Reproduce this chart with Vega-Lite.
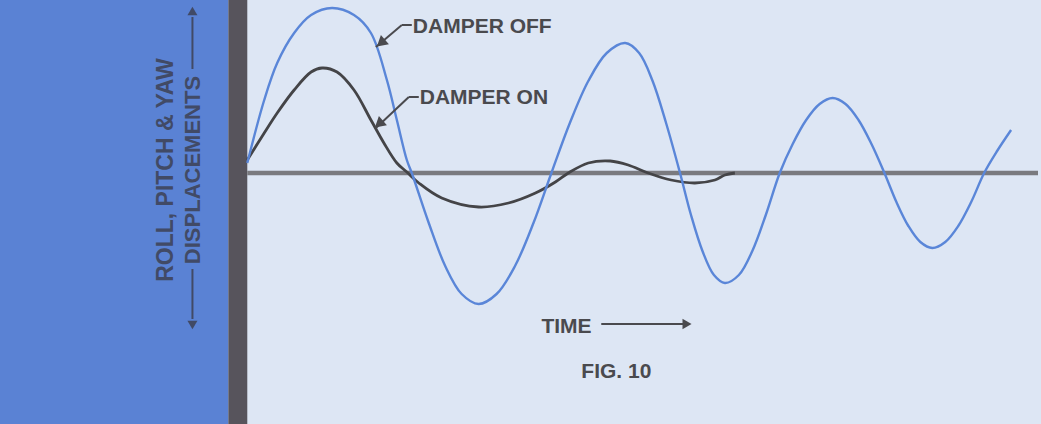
{
  "$schema": "https://vega.github.io/schema/vega-lite/v6.json",
  "width": 1041,
  "height": 424,
  "autosize": {"type": "fit", "contains": "padding"},
  "padding": 0,
  "background": "#dde6f4",
  "config": {"view": {"stroke": null}},
  "datasets": {
    "curves": [
      {"series": "DAMPER OFF", "t": 0.0, "d": 1.0},
      {"series": "DAMPER OFF", "t": 1.7, "d": 7.3},
      {"series": "DAMPER OFF", "t": 3.0, "d": 11.0},
      {"series": "DAMPER OFF", "t": 4.7, "d": 14.0},
      {"series": "DAMPER OFF", "t": 6.4, "d": 15.8},
      {"series": "DAMPER OFF", "t": 8.5, "d": 16.5},
      {"series": "DAMPER OFF", "t": 10.7, "d": 15.8},
      {"series": "DAMPER OFF", "t": 12.4, "d": 14.0},
      {"series": "DAMPER OFF", "t": 14.0, "d": 9.3},
      {"series": "DAMPER OFF", "t": 15.0, "d": 5.3},
      {"series": "DAMPER OFF", "t": 16.0, "d": 1.3},
      {"series": "DAMPER OFF", "t": 16.5, "d": 0.0},
      {"series": "DAMPER OFF", "t": 18.2, "d": -5.0},
      {"series": "DAMPER OFF", "t": 19.85, "d": -9.3},
      {"series": "DAMPER OFF", "t": 21.5, "d": -12.1},
      {"series": "DAMPER OFF", "t": 23.2, "d": -13.1},
      {"series": "DAMPER OFF", "t": 25.0, "d": -12.1},
      {"series": "DAMPER OFF", "t": 26.85, "d": -9.3},
      {"series": "DAMPER OFF", "t": 28.7, "d": -5.0},
      {"series": "DAMPER OFF", "t": 30.5, "d": 0.0},
      {"series": "DAMPER OFF", "t": 32.35, "d": 5.0},
      {"series": "DAMPER OFF", "t": 34.2, "d": 9.2},
      {"series": "DAMPER OFF", "t": 36.05, "d": 12.0},
      {"series": "DAMPER OFF", "t": 37.9, "d": 13.0},
      {"series": "DAMPER OFF", "t": 39.3, "d": 12.0},
      {"series": "DAMPER OFF", "t": 40.65, "d": 9.2},
      {"series": "DAMPER OFF", "t": 42.0, "d": 5.0},
      {"series": "DAMPER OFF", "t": 43.4, "d": 0.0},
      {"series": "DAMPER OFF", "t": 44.5, "d": -4.2},
      {"series": "DAMPER OFF", "t": 45.65, "d": -7.8},
      {"series": "DAMPER OFF", "t": 46.8, "d": -10.2},
      {"series": "DAMPER OFF", "t": 47.9, "d": -11.0},
      {"series": "DAMPER OFF", "t": 49.3, "d": -10.2},
      {"series": "DAMPER OFF", "t": 50.65, "d": -7.8},
      {"series": "DAMPER OFF", "t": 52.0, "d": -4.2},
      {"series": "DAMPER OFF", "t": 53.4, "d": 0.0},
      {"series": "DAMPER OFF", "t": 54.7, "d": 2.9},
      {"series": "DAMPER OFF", "t": 56.05, "d": 5.3},
      {"series": "DAMPER OFF", "t": 57.4, "d": 6.9},
      {"series": "DAMPER OFF", "t": 58.7, "d": 7.5},
      {"series": "DAMPER OFF", "t": 60.0, "d": 6.9},
      {"series": "DAMPER OFF", "t": 61.3, "d": 5.3},
      {"series": "DAMPER OFF", "t": 62.6, "d": 2.9},
      {"series": "DAMPER OFF", "t": 63.9, "d": 0.0},
      {"series": "DAMPER OFF", "t": 65.1, "d": -2.9},
      {"series": "DAMPER OFF", "t": 66.3, "d": -5.3},
      {"series": "DAMPER OFF", "t": 67.5, "d": -6.9},
      {"series": "DAMPER OFF", "t": 68.7, "d": -7.5},
      {"series": "DAMPER OFF", "t": 70.0, "d": -6.9},
      {"series": "DAMPER OFF", "t": 71.3, "d": -5.3},
      {"series": "DAMPER OFF", "t": 72.6, "d": -2.9},
      {"series": "DAMPER OFF", "t": 73.9, "d": 0.0},
      {"series": "DAMPER OFF", "t": 75.2, "d": 2.2},
      {"series": "DAMPER OFF", "t": 76.6, "d": 4.3},
      {"series": "DAMPER ON", "t": 0.0, "d": 1.3},
      {"series": "DAMPER ON", "t": 1.7, "d": 4.0},
      {"series": "DAMPER ON", "t": 3.0, "d": 6.0},
      {"series": "DAMPER ON", "t": 4.7, "d": 8.3},
      {"series": "DAMPER ON", "t": 6.4, "d": 10.1},
      {"series": "DAMPER ON", "t": 7.5, "d": 10.5},
      {"series": "DAMPER ON", "t": 9.0, "d": 10.1},
      {"series": "DAMPER ON", "t": 10.7, "d": 8.3},
      {"series": "DAMPER ON", "t": 12.4, "d": 5.3},
      {"series": "DAMPER ON", "t": 13.7, "d": 3.0},
      {"series": "DAMPER ON", "t": 15.0, "d": 1.0},
      {"series": "DAMPER ON", "t": 16.0, "d": 0.1},
      {"series": "DAMPER ON", "t": 17.2, "d": -1.0},
      {"series": "DAMPER ON", "t": 19.5, "d": -2.5},
      {"series": "DAMPER ON", "t": 23.2, "d": -3.4},
      {"series": "DAMPER ON", "t": 26.2, "d": -3.0},
      {"series": "DAMPER ON", "t": 28.9, "d": -2.0},
      {"series": "DAMPER ON", "t": 30.9, "d": -0.9},
      {"series": "DAMPER ON", "t": 32.2, "d": 0.0},
      {"series": "DAMPER ON", "t": 34.2, "d": 1.0},
      {"series": "DAMPER ON", "t": 36.4, "d": 1.2},
      {"series": "DAMPER ON", "t": 38.2, "d": 0.8},
      {"series": "DAMPER ON", "t": 40.2, "d": 0.0},
      {"series": "DAMPER ON", "t": 42.5, "d": -0.7},
      {"series": "DAMPER ON", "t": 44.9, "d": -1.0},
      {"series": "DAMPER ON", "t": 46.9, "d": -0.7},
      {"series": "DAMPER ON", "t": 47.9, "d": -0.2},
      {"series": "DAMPER ON", "t": 48.9, "d": 0.0}
    ],
    "panels": [
      {"part": "side", "t0": -24.8, "t1": -1.9, "d0": -25.1, "d1": 17.3},
      {"part": "bar", "t0": -1.9, "t1": 0.0, "d0": -25.1, "d1": 17.3}
    ],
    "baseline": [{"t0": 0.0, "t1": 79.3, "d": 0.0}],
    "leaders": [
      {"t0": 12.9, "d0": 12.6, "t1": 15.5, "d1": 14.8},
      {"t0": 15.5, "d0": 14.8, "t1": 16.5, "d1": 14.8},
      {"t0": 12.9, "d0": 4.5, "t1": 16.2, "d1": 7.6},
      {"t0": 16.2, "d0": 7.6, "t1": 17.2, "d1": 7.6},
      {"t0": 35.5, "d0": -15.1, "t1": 43.8, "d1": -15.1}
    ],
    "axisrules": [
      {"t0": -5.5, "d0": 15.6, "t1": -5.5, "d1": 10.4},
      {"t0": -5.5, "d0": -9.6, "t1": -5.5, "d1": -14.6}
    ],
    "labels": [
      {"text": "DAMPER OFF", "t": 16.6, "d": 14.0},
      {"text": "DAMPER ON", "t": 17.3, "d": 6.9},
      {"text": "TIME", "t": 29.5, "d": -16.0},
      {"text": "FIG. 10", "t": 33.5, "d": -20.5}
    ],
    "vlabel1": [{"text": "ROLL, PITCH & YAW", "t": -8.2, "d": 0.3}],
    "vlabel2": [{"text": "DISPLACEMENTS", "t": -5.45, "d": 0.3}],
    "leaderheads": [
      {"t": 13.4, "d": 13.0},
      {"t": 13.2, "d": 4.9}
    ],
    "uphead": [{"t": -5.5, "d": 16.2}],
    "downhead": [{"t": -5.5, "d": -15.2}],
    "timehead": [{"t": 44.1, "d": -15.1}]
  },
  "layer": [
    {
      "data": {"name": "panels"},
      "mark": {"type": "rect"},
      "encoding": {
        "x": {"field": "t0", "type": "quantitative", "scale": {"domain": [-24.8, 79.3], "nice": false, "zero": false}, "axis": null},
        "x2": {"field": "t1"},
        "y": {"field": "d0", "type": "quantitative", "scale": {"domain": [-25.1, 17.3], "nice": false, "zero": false}, "axis": null},
        "y2": {"field": "d1"},
        "color": {"field": "part", "type": "nominal", "scale": {"domain": ["side", "bar"], "range": ["#5a82d4", "#57545c"]}, "legend": null}
      }
    },
    {
      "data": {"name": "baseline"},
      "mark": {"type": "rule", "color": "#7a7a7f", "strokeWidth": 4.5},
      "encoding": {
        "x": {"field": "t0", "type": "quantitative"},
        "x2": {"field": "t1"},
        "y": {"field": "d", "type": "quantitative"}
      }
    },
    {
      "data": {"name": "curves"},
      "transform": [{"filter": "datum.series === 'DAMPER ON'"}],
      "mark": {"type": "line", "interpolate": "catmull-rom", "color": "#444447", "strokeWidth": 2.8},
      "encoding": {
        "x": {"field": "t", "type": "quantitative"},
        "y": {"field": "d", "type": "quantitative"}
      }
    },
    {
      "data": {"name": "curves"},
      "transform": [{"filter": "datum.series === 'DAMPER OFF'"}],
      "mark": {"type": "line", "interpolate": "catmull-rom", "color": "#5a86d8", "strokeWidth": 2.4},
      "encoding": {
        "x": {"field": "t", "type": "quantitative"},
        "y": {"field": "d", "type": "quantitative"}
      }
    },
    {
      "data": {"name": "leaders"},
      "mark": {"type": "rule", "color": "#4a4a4e", "strokeWidth": 2},
      "encoding": {
        "x": {"field": "t0", "type": "quantitative"},
        "x2": {"field": "t1"},
        "y": {"field": "d0", "type": "quantitative"},
        "y2": {"field": "d1"}
      }
    },
    {
      "data": {"name": "axisrules"},
      "mark": {"type": "rule", "color": "#414a66", "strokeWidth": 2},
      "encoding": {
        "x": {"field": "t0", "type": "quantitative"},
        "x2": {"field": "t1"},
        "y": {"field": "d0", "type": "quantitative"},
        "y2": {"field": "d1"}
      }
    },
    {
      "data": {"name": "leaderheads"},
      "mark": {"type": "point", "shape": "triangle-up", "filled": true, "opacity": 1, "color": "#4a4a4e", "size": 150, "angle": 229},
      "encoding": {
        "x": {"field": "t", "type": "quantitative"},
        "y": {"field": "d", "type": "quantitative"}
      }
    },
    {
      "data": {"name": "uphead"},
      "mark": {"type": "point", "shape": "triangle-up", "filled": true, "opacity": 1, "color": "#414a66", "size": 100},
      "encoding": {
        "x": {"field": "t", "type": "quantitative"},
        "y": {"field": "d", "type": "quantitative"}
      }
    },
    {
      "data": {"name": "downhead"},
      "mark": {"type": "point", "shape": "triangle-down", "filled": true, "opacity": 1, "color": "#414a66", "size": 100},
      "encoding": {
        "x": {"field": "t", "type": "quantitative"},
        "y": {"field": "d", "type": "quantitative"}
      }
    },
    {
      "data": {"name": "timehead"},
      "mark": {"type": "point", "shape": "triangle-right", "filled": true, "opacity": 1, "color": "#4a4a4e", "size": 110},
      "encoding": {
        "x": {"field": "t", "type": "quantitative"},
        "y": {"field": "d", "type": "quantitative"}
      }
    },
    {
      "data": {"name": "labels"},
      "mark": {"type": "text", "align": "left", "baseline": "alphabetic", "font": "Liberation Sans", "fontWeight": "bold", "fontSize": 21, "color": "#4a4a4e"},
      "encoding": {
        "x": {"field": "t", "type": "quantitative"},
        "y": {"field": "d", "type": "quantitative"},
        "text": {"field": "text", "type": "nominal"}
      }
    },
    {
      "data": {"name": "vlabel1"},
      "mark": {"type": "text", "align": "center", "baseline": "middle", "angle": 270, "font": "Liberation Sans", "fontWeight": "bold", "fontSize": 23, "color": "#414a66"},
      "encoding": {
        "x": {"field": "t", "type": "quantitative"},
        "y": {"field": "d", "type": "quantitative"},
        "text": {"field": "text", "type": "nominal"}
      }
    },
    {
      "data": {"name": "vlabel2"},
      "mark": {"type": "text", "align": "center", "baseline": "middle", "angle": 270, "font": "Liberation Sans", "fontWeight": "bold", "fontSize": 22, "color": "#414a66"},
      "encoding": {
        "x": {"field": "t", "type": "quantitative"},
        "y": {"field": "d", "type": "quantitative"},
        "text": {"field": "text", "type": "nominal"}
      }
    }
  ]
}
